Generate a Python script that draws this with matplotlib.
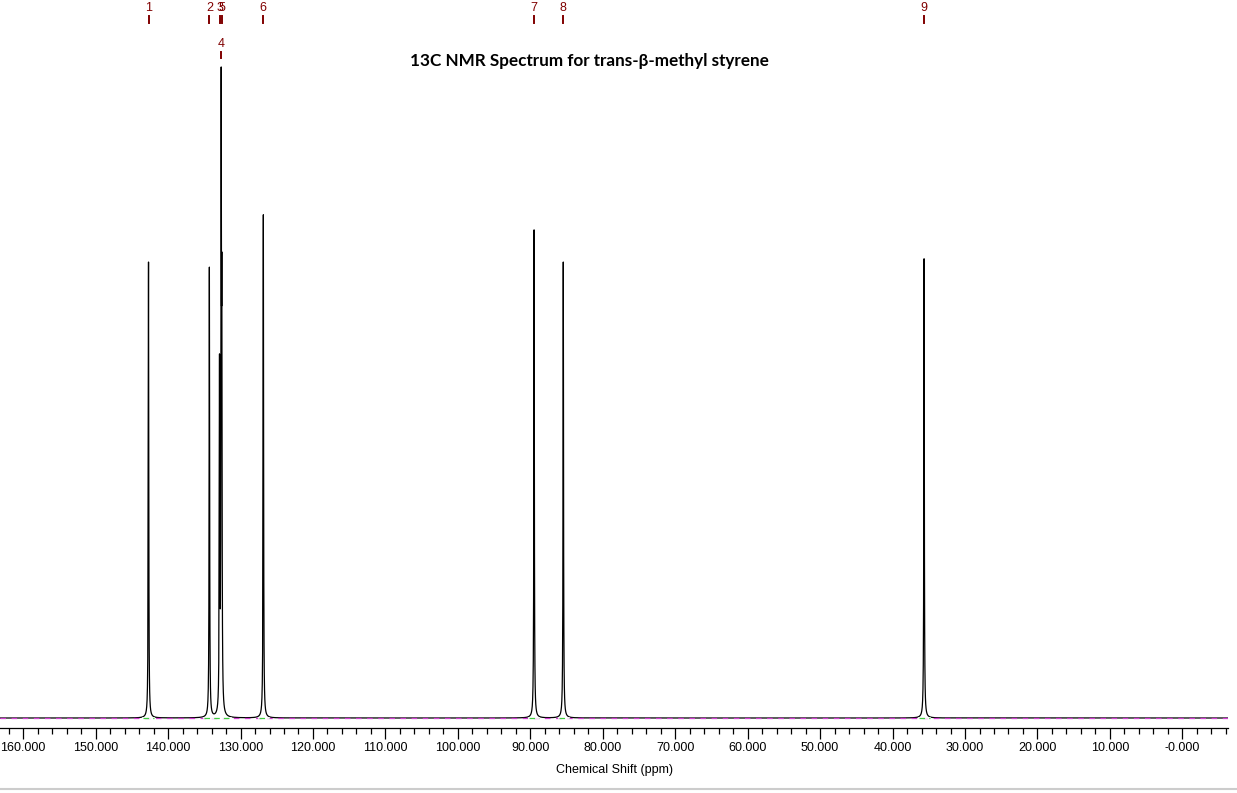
import numpy as np
import matplotlib.pyplot as plt
from matplotlib.lines import Line2D

plt.rcParams['lines.scale_dashes'] = False

# peak table (ppm, relative intensity)
peak_labels = ["1", "2", "3", "4", "5", "6", "7", "8", "9"]
peak_shifts = [142.7, 134.3, 132.9, 132.67, 132.58, 126.85, 89.48, 85.45, 35.65]
peak_heights = [69.5, 68.6, 52.0, 88.5, 55.0, 76.7, 74.4, 69.5, 70.0]
peak_hwhm = 0.04

# integration ranges (green dashes on the baseline)
integral_regions = [(143.4, 142.0), (135.0, 131.3), (127.5, 126.1),
                    (90.2, 88.8), (86.1, 84.7), (36.3, 34.9)]

tick_values = [160, 150, 140, 130, 120, 110, 100, 90, 80, 70, 60, 50, 40, 30, 20, 10, 0]
tick_labels = ["160.000", "150.000", "140.000", "130.000", "120.000", "110.000",
               "100.000", "90.000", "80.000", "70.000", "60.000", "50.000",
               "40.000", "30.000", "20.000", "10.000", "-0.000"]

x_left, x_right = 163.2, -6.3

# lorentzian line shapes
ppm = np.arange(x_right, x_left, 0.002)
spectrum = np.zeros_like(ppm)
for pos, h in zip(peak_shifts, peak_heights):
    spectrum += h / (1 + ((ppm - pos) / peak_hwhm) ** 2)

fig = plt.figure(figsize=(12.37, 7.93), dpi=100)
ax = fig.add_axes([0, 65 / 793, 1228 / 1237, 728 / 793])

ax.plot(ppm, spectrum, color='black', lw=0.9, zorder=2)
ax.plot([x_left, x_right], [0, 0], color='#d040d0', lw=0.9,
        dashes=(4, 4), zorder=3)
for a, b in integral_regions:
    ax.plot([a, b], [0, 0], color='white', lw=1.2, zorder=3.5)
    ax.plot([a, b], [0, 0], color='#40d040', lw=0.9, dashes=(4, 3), zorder=4)

ax.set_xlim(x_left, x_right)
ax.set_ylim(-10 / 6.56, 718 / 6.56)

for s in ['left', 'right', 'top']:
    ax.spines[s].set_visible(False)
ax.spines['bottom'].set_linewidth(0.9)
ax.set_yticks([])
ax.set_xticks(tick_values)
ax.set_xticklabels(tick_labels, fontfamily='Liberation Sans', fontsize=9)
ax.set_xticks(np.arange(162, -7, -2), minor=True)
ax.tick_params(axis='x', which='major', length=8, width=0.9, pad=2)
ax.tick_params(axis='x', which='minor', length=4, width=0.9)
ax.set_xlabel("Chemical Shift (ppm)", fontfamily='Liberation Sans',
              fontsize=9, labelpad=7)

# peak markers along the top
trans = ax.get_xaxis_transform()
for lab, pos in zip(peak_labels, peak_shifts):
    if lab == "4":
        y_txt, y0, y1 = 1 - 44 / 728, 1 - 52 / 728, 1 - 58 / 728
    else:
        y_txt, y0, y1 = 1 - 8 / 728, 1 - 16 / 728, 1 - 23 / 728
    ax.plot([pos, pos], [y0, y1], color='#800000', lw=1.4,
            transform=trans, clip_on=False)
    ax.text(pos, y_txt, lab, color='#800000', fontsize=9,
            fontfamily='Liberation Sans', ha='center', va='center',
            transform=trans)

fig.text(589 / 1237, 1 - 61 / 793, "13C NMR Spectrum for trans-\u03b2-methyl styrene",
         ha='center', va='center', fontsize=12.3, fontweight='bold',
         family=['Lato', 'DejaVu Sans'])

fig.add_artist(Line2D([0, 1], [4.5 / 793, 4.5 / 793], color='#cccccc', lw=1.5))

fig.savefig('out.png', dpi=100)
